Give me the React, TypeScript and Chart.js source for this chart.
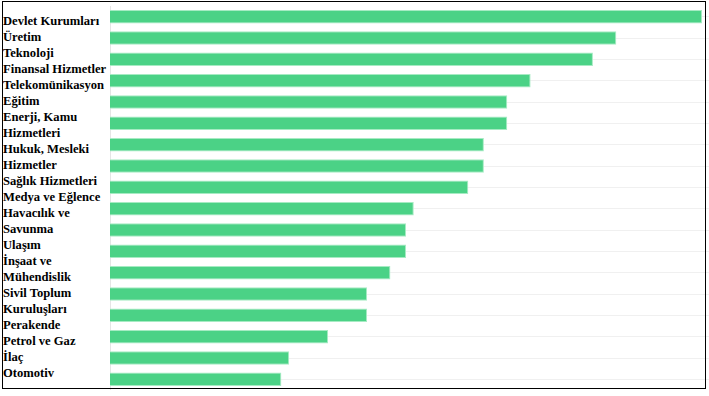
import React, { useEffect, useRef } from "react";
import { Chart, registerables } from "chart.js";

Chart.register(...registerables);

const categories: string[] = [
  "Devlet Kurumları",
  "Üretim",
  "Teknoloji",
  "Finansal Hizmetler",
  "Telekomünikasyon",
  "Eğitim",
  "Enerji, Kamu Hizmetleri",
  "Hukuk, Mesleki Hizmetler",
  "Sağlık Hizmetleri",
  "Medya ve Eğlence",
  "Havacılık ve Savunma",
  "Ulaşım",
  "İnşaat ve Mühendislik",
  "Sivil Toplum Kuruluşları",
  "Perakende",
  "Petrol ve Gaz",
  "İlaç",
  "Otomotiv",
];

const values: number[] = [76, 65, 62, 54, 51, 51, 48, 48, 46, 39, 38, 38, 36, 33, 33, 28, 23, 22];

const xMin = 0;
const xMax = 76.9;

export default function App() {
  const canvasRef = useRef<HTMLCanvasElement | null>(null);

  useEffect(() => {
    document.body.style.margin = "0";
    const canvas = canvasRef.current;
    if (!canvas) return;
    const chart = new Chart(canvas, {
      type: "bar",
      data: {
        labels: categories,
        datasets: [
          {
            data: values,
            backgroundColor: "#4bd286",
            borderColor: "#a6ebc3",
            borderWidth: 1,
            barPercentage: 0.9,
            categoryPercentage: 0.7,
          },
        ],
      },
      options: {
        indexAxis: "y",
        animation: false,
        responsive: true,
        maintainAspectRatio: false,
        layout: { padding: 0 },
        plugins: {
          legend: { display: false },
          tooltip: { enabled: false },
          title: { display: false },
        },
        scales: {
          x: {
            display: false,
            min: xMin,
            max: xMax,
            grid: { display: false },
          },
          y: {
            display: true,
            ticks: { display: false },
            grid: {
              display: true,
              offset: false,
              drawTicks: false,
              color: "rgba(0,0,0,0.06)",
            },
            border: { display: true, color: "rgba(0,0,0,0.1)" },
          },
        },
      },
    });
    return () => chart.destroy();
  }, []);

  return (
    <div>
      <div
        style={{
          position: "absolute",
          left: 110,
          top: 6,
          width: 599,
          height: 384,
        }}
      >
        <canvas ref={canvasRef} />
      </div>
      <div
        style={{
          position: "absolute",
          left: 3,
          top: 13,
          width: 106,
          fontFamily: '"Liberation Serif", "Times New Roman", serif',
          fontWeight: "bold",
          fontSize: 12.6,
          lineHeight: "16px",
          color: "#000",
        }}
      >
        {categories.map((c) => (
          <div key={c}>{c}</div>
        ))}
      </div>
      <div
        style={{
          position: "absolute",
          left: 2,
          top: 1,
          width: 704,
          height: 388,
          boxSizing: "border-box",
          border: "1px solid #000",
          pointerEvents: "none",
        }}
      />
    </div>
  );
}
